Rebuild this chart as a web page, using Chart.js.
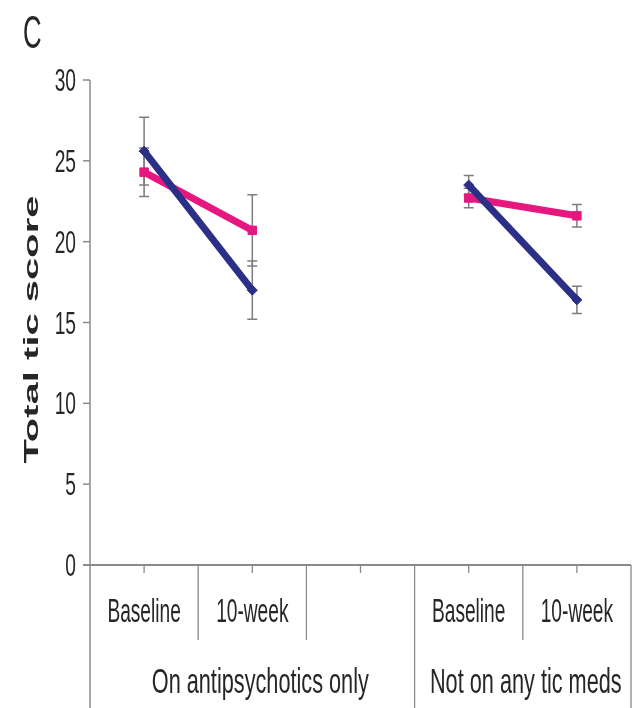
<!DOCTYPE html>
<html>
<head>
<meta charset="utf-8">
<script src="https://cdn.jsdelivr.net/npm/chart.js@4/dist/chart.umd.min.js"></script>
<style>
html,body{margin:0;padding:0;background:#fff;}
#wrap{width:639px;height:708px;}
</style>
</head>
<body>
<div id="wrap"><canvas id="c" width="639" height="708"></canvas></div>
<script>
// ---- data ----
const categories = ['Baseline', '10-week', '', 'Baseline', '10-week'];
const groupLabels = ['On antipsychotics only', 'Not on any tic meds'];
const groupSpans = [[0, 2], [3, 4]];
const yTickValues = [0, 5, 10, 15, 20, 25, 30];
const yAxisTitle = 'Total tic score';
const panelLetter = 'C';

const navyValues = [25.6, 17.0, null, 23.5, 16.4];
const navyErrors = [2.1, 1.8, null, 0.6, 0.85];
const pinkValues = [24.3, 20.7, null, 22.7, 21.6];
const pinkErrors = [1.5, 2.2, null, 0.6, 0.7];

const NAVY = '#2c2f86';
const PINK = '#e6187f';
const AXIS = '#8a8a8a';
const TEXT = '#262626';

function drawText(ctx, text, x, y, size, sx, align, weight) {
  ctx.save();
  ctx.translate(x, y);
  ctx.scale(sx, 1);
  ctx.font = (weight || 'normal') + ' ' + size + 'px "Liberation Sans", Arial, sans-serif';
  ctx.textAlign = align;
  ctx.textBaseline = 'alphabetic';
  ctx.fillStyle = TEXT;
  ctx.fillText(text, 0, 0);
  ctx.restore();
}

const errorBars = {
  id: 'errorBars',
  beforeDatasetsDraw(chart) {
    const ctx = chart.ctx, xs = chart.scales.x, ys = chart.scales.y;
    const sets = [[navyValues, navyErrors], [pinkValues, pinkErrors]];
    ctx.save();
    ctx.strokeStyle = '#7d7d7d';
    ctx.lineWidth = 1.5;
    sets.forEach(([vals, errs]) => {
      vals.forEach((v, i) => {
        if (v === null || errs[i] === null) return;
        const x = xs.getPixelForValue(i);
        const yt = ys.getPixelForValue(v + errs[i]);
        const yb = ys.getPixelForValue(v - errs[i]);
        ctx.beginPath();
        ctx.moveTo(x, yt); ctx.lineTo(x, yb);
        ctx.moveTo(x - 5, yt); ctx.lineTo(x + 5, yt);
        ctx.moveTo(x - 5, yb); ctx.lineTo(x + 5, yb);
        ctx.stroke();
      });
    });
    ctx.restore();
  }
};

const axesPlugin = {
  id: 'axesPlugin',
  beforeDatasetsDraw(chart) {
    const ctx = chart.ctx, xs = chart.scales.x, ys = chart.scales.y;
    const area = chart.chartArea;
    const H = chart.height;
    ctx.save();
    ctx.strokeStyle = AXIS;
    ctx.lineWidth = 1.5;
    // y axis line (extends down to bottom as group border)
    ctx.beginPath();
    ctx.moveTo(area.left, area.top);
    ctx.lineTo(area.left, H);
    ctx.stroke();
    // y ticks
    yTickValues.forEach(v => {
      const y = ys.getPixelForValue(v);
      ctx.beginPath();
      ctx.moveTo(area.left - 7, y);
      ctx.lineTo(area.left, y);
      ctx.stroke();
      drawText(ctx, String(v), area.left - 14, y + 11, 32, 0.6, 'right');
    });
    // x axis line
    ctx.lineWidth = 2;
    ctx.beginPath();
    ctx.moveTo(area.left - 7, area.bottom);
    ctx.lineTo(area.right, area.bottom);
    ctx.stroke();
    ctx.lineWidth = 1.3;
    // short ticks at category centers
    const n = categories.length;
    for (let i = 0; i < n; i++) {
      const x = xs.getPixelForValue(i);
      ctx.beginPath();
      ctx.moveTo(x, area.bottom);
      ctx.lineTo(x, area.bottom + 8);
      ctx.stroke();
      if (categories[i]) drawText(ctx, categories[i], x, area.bottom + 57, 33, 0.58, 'center');
    }
    // separators
    const groupEnds = groupSpans.map(g => g[1] + 1);
    for (let k = 1; k <= n; k++) {
      const x = xs.getPixelForValue(k - 0.5);
      const full = groupEnds.includes(k);
      ctx.beginPath();
      ctx.moveTo(x, area.bottom);
      ctx.lineTo(x, full ? H : area.bottom + 75);
      ctx.stroke();
    }
    // group labels
    groupSpans.forEach((g, gi) => {
      const x0 = xs.getPixelForValue(g[0] - 0.5);
      const x1 = xs.getPixelForValue(g[1] + 0.5);
      const cx = (x0 + x1) / 2 + (gi === 0 ? 8 : 3);
      drawText(ctx, groupLabels[gi], cx, area.bottom + 128, 35, 0.62, 'center');
    });
    // y title
    ctx.save();
    ctx.translate(38, (area.top + area.bottom) / 2 + 7);
    ctx.rotate(-Math.PI / 2);
    ctx.scale(1, 0.52);
    ctx.font = 'bold 40px "Liberation Sans", Arial, sans-serif';
    ctx.textAlign = 'center';
    ctx.textBaseline = 'alphabetic';
    ctx.fillStyle = TEXT;
    ctx.fillText(yAxisTitle, 0, 0);
    ctx.restore();
    // panel letter
    drawText(ctx, panelLetter, 23, 48, 46, 0.56, 'left');
    ctx.restore();
  }
};

new Chart(document.getElementById('c'), {
  type: 'line',
  data: {
    labels: categories,
    datasets: [
      {
        data: navyValues,
        borderColor: NAVY,
        backgroundColor: NAVY,
        borderWidth: 7,
        pointStyle: 'rectRot',
        pointRadius: 5,
        pointBorderWidth: 1,
        spanGaps: false,
        tension: 0
      },
      {
        data: pinkValues,
        borderColor: PINK,
        backgroundColor: PINK,
        borderWidth: 7,
        pointStyle: 'rect',
        pointRadius: 6,
        pointBorderWidth: 1,
        spanGaps: false,
        tension: 0
      }
    ]
  },
  options: {
    responsive: false,
    animation: false,
    devicePixelRatio: 1,
    layout: { padding: { left: 90, right: 8, top: 80, bottom: 143 } },
    plugins: { legend: { display: false }, tooltip: { enabled: false } },
    scales: {
      x: { type: 'category', offset: true, display: false },
      y: { min: 0, max: 30, display: false }
    }
  },
  plugins: [axesPlugin, errorBars]
});
</script>
</body>
</html>
